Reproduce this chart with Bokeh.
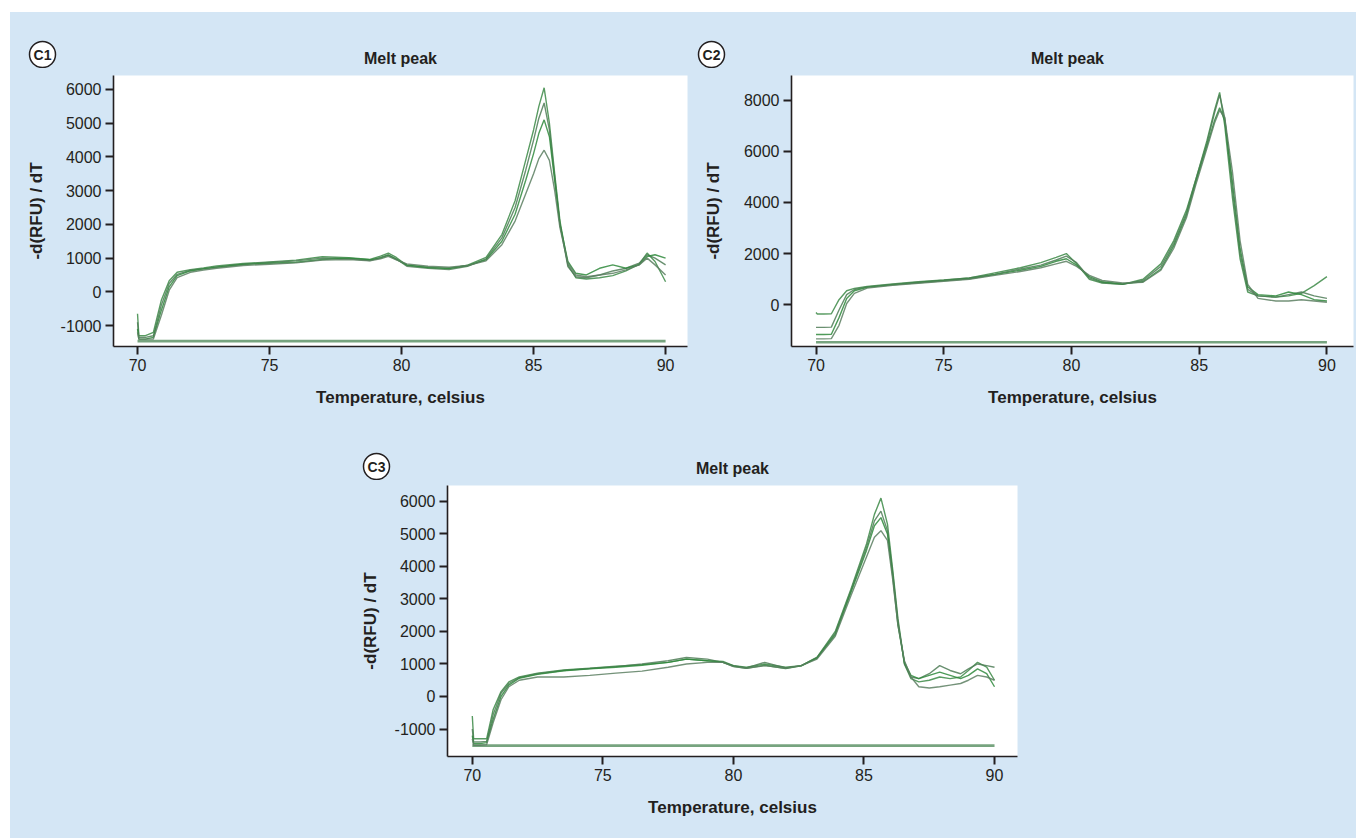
from bokeh.plotting import figure
from bokeh.layouts import column, row
from bokeh.models import Range1d, FixedTicker, Spacer
from bokeh.core.properties import value
from bokeh.embed import file_html
from bokeh.resources import INLINE

# ---------------- data ----------------
panel_tags = ["C1", "C2", "C3"]
panel_title = "Melt peak"
x_label = "Temperature, celsius"
y_label = "-d(RFU) / dT"
x_ticks = [70, 75, 80, 85, 90]
y_ticks_c1 = [-1000, 0, 1000, 2000, 3000, 4000, 5000, 6000]
y_ticks_c2 = [0, 2000, 4000, 6000, 8000]
y_ticks_c3 = [-1000, 0, 1000, 2000, 3000, 4000, 5000, 6000]

base_temp = [70.0, 90.0]
base_c1 = [-1460, -1460]
base_c2 = [-1460, -1460]
base_c3 = [-1510, -1510]

temp_c1 = [70.0, 70.05, 70.3, 70.6, 70.9, 71.2, 71.5, 72.0, 72.5, 73.0, 74.0, 75.0, 76.0, 77.0,
           78.0, 78.8, 79.2, 79.5, 79.8, 80.2, 81.0, 81.8, 82.5, 83.2, 83.8, 84.3, 84.7, 85.0,
           85.2, 85.4, 85.6, 85.8, 86.0, 86.3, 86.6, 87.0, 87.5, 88.0, 88.5, 89.0, 89.3, 89.6, 90.0]
c1_a = [-650, -1300, -1300, -1200, -250, 330, 580, 660, 710, 770, 840, 890, 940, 1040,
        1010, 960, 1060, 1150, 1020, 790, 730, 690, 790, 1020, 1700, 2700, 3900, 4800,
        5500, 6050, 5000, 3500, 2100, 800, 420, 380, 420, 480, 620, 820, 1150, 900, 300]
c1_b = [-900, -1350, -1350, -1300, -400, 250, 520, 640, 690, 740, 820, 870, 920, 1000,
        980, 930, 1020, 1100, 980, 760, 700, 660, 760, 980, 1600, 2500, 3600, 4500,
        5150, 5600, 4800, 3400, 2000, 750, 450, 420, 500, 620, 700, 850, 1100, 1000, 800]
c1_c = [-1100, -1400, -1400, -1350, -550, 150, 480, 620, 680, 730, 810, 850, 880, 960,
        1000, 950, 1000, 1080, 960, 800, 720, 700, 780, 950, 1500, 2300, 3300, 4100,
        4700, 5100, 4600, 3300, 2000, 900, 550, 500, 700, 800, 700, 800, 1050, 1100, 1000]
c1_d = [-1200, -1400, -1400, -1400, -700, 50, 420, 580, 650, 700, 780, 820, 860, 940,
        960, 920, 980, 1050, 950, 830, 760, 730, 780, 920, 1400, 2100, 2900, 3500,
        3950, 4200, 3900, 3000, 1900, 850, 500, 450, 500, 550, 650, 800, 1000, 800, 500]

temp_c2 = [70.0, 70.05, 70.3, 70.6, 70.9, 71.2, 71.5, 72.0, 73.0, 74.0, 75.0, 76.0, 77.0, 78.0,
           78.8, 79.4, 79.8, 80.2, 80.7, 81.2, 82.0, 82.8, 83.5, 84.0, 84.5, 84.9, 85.3, 85.6,
           85.8, 86.0, 86.3, 86.6, 86.9, 87.3, 88.0, 88.5, 89.0, 89.5, 90.0]
c2_a = [-300, -360, -360, -350, 200, 550, 640, 720, 820, 900, 970, 1050, 1250, 1450,
        1650, 1850, 2000, 1600, 1000, 850, 800, 1000, 1600, 2500, 3700, 5000, 6400, 7600,
        8300, 7000, 4200, 1800, 500, 350, 300, 350, 450, 750, 1100]
c2_b = [-880, -880, -880, -870, -200, 400, 600, 700, 800, 880, 960, 1050, 1200, 1400,
        1550, 1750, 1900, 1650, 1050, 870, 800, 950, 1500, 2400, 3600, 5000, 6300, 7500,
        8200, 7300, 4500, 2000, 600, 350, 300, 400, 500, 350, 250]
c2_c = [-1160, -1160, -1160, -1150, -500, 250, 550, 680, 780, 860, 940, 1020, 1180, 1350,
        1500, 1700, 1800, 1550, 1100, 900, 820, 900, 1400, 2300, 3500, 4900, 6200, 7200,
        7700, 7200, 4800, 2200, 700, 400, 350, 500, 400, 200, 150]
c2_d = [-1330, -1330, -1330, -1320, -800, 50, 450, 650, 760, 840, 920, 1000, 1150, 1300,
        1450, 1600, 1700, 1500, 1150, 950, 850, 880, 1350, 2200, 3400, 4800, 6100, 7100,
        7600, 7300, 5200, 2500, 800, 250, 150, 150, 200, 150, 100]

temp_c3 = [70.0, 70.05, 70.3, 70.55, 70.8, 71.1, 71.4, 71.8, 72.5, 73.5, 74.5, 75.5, 76.5, 77.5,
           78.2, 79.0, 79.6, 80.0, 80.5, 81.2, 82.0, 82.6, 83.2, 83.9, 84.5, 85.1, 85.4, 85.65,
           85.9, 86.1, 86.3, 86.55, 86.8, 87.1, 87.5, 87.9, 88.3, 88.7, 89.0, 89.35, 89.7, 90.0]
c3_a = [-600, -1300, -1300, -1300, -400, 150, 450, 600, 720, 820, 870, 930, 980, 1050,
        1150, 1100, 1080, 950, 900, 1000, 900, 950, 1200, 2000, 3300, 4700, 5600, 6100,
        5300, 3900, 2400, 1000, 550, 450, 500, 600, 550, 600, 800, 1050, 900, 500]
c3_b = [-1000, -1400, -1400, -1380, -550, 100, 400, 580, 700, 800, 860, 920, 1000, 1100,
        1200, 1150, 1050, 950, 880, 1050, 880, 950, 1200, 1950, 3250, 4600, 5400, 5700,
        5100, 3800, 2300, 1000, 600, 550, 700, 950, 800, 700, 850, 1000, 950, 900]
c3_c = [-1200, -1450, -1450, -1420, -700, 0, 350, 560, 680, 790, 850, 900, 960, 1050,
        1150, 1100, 1050, 930, 870, 960, 860, 940, 1180, 1900, 3200, 4500, 5250, 5500,
        5000, 3700, 2200, 1050, 650, 550, 650, 750, 650, 550, 650, 850, 700, 300]
c3_d = [-1300, -1500, -1500, -1480, -800, -100, 300, 500, 600, 600, 650, 720, 780, 900,
        1000, 1050, 1050, 920, 870, 950, 870, 950, 1150, 1850, 3100, 4300, 4900, 5100,
        4800, 3600, 2200, 1100, 600, 300, 260, 300, 350, 400, 500, 650, 600, 500]

# ---------------- styling ----------------
BG = "#d4e6f5"
INK = "#231f20"
FONT = "Liberation Sans"
LINE_COLORS = ["#3c8a46", "#4f7d57", "#2f8a3c", "#5c7f62"]


def make_header(width, height, tags, tag_pos, title_pos):
    """Strip above the panels that carries the circled tags and the panel titles."""
    h = figure(width=width, height=height, output_backend="svg", toolbar_location=None,
               x_range=Range1d(0, width), y_range=Range1d(0, height), min_border=0,
               x_axis_location=None, y_axis_location=None)
    h.border_fill_color = BG
    h.background_fill_color = BG
    h.outline_line_color = None
    h.grid.visible = False
    h.scatter([q[0] for q in tag_pos], [q[1] for q in tag_pos], marker="circle", size=26,
              fill_color="white", line_color=INK, line_width=1.5)
    h.text([q[0] for q in tag_pos], [q[1] for q in tag_pos], text=tags,
           text_align="center", text_baseline="middle", text_font=value(FONT),
           text_font_size=value("14px"), text_font_style="bold", text_color=INK)
    h.text([q[0] for q in title_pos], [q[1] for q in title_pos],
           text=[panel_title] * len(title_pos), text_align="center", text_baseline="middle",
           text_font=value(FONT), text_font_size=value("16px"), text_font_style="bold",
           text_color=INK)
    return h


def make_panel(width, height, mbl, mbr, mbt, mbb, xr, yr, yticks, temps, curves,
               base_vals, ylabel_standoff):
    p = figure(width=width, height=height, output_backend="svg", toolbar_location=None,
               x_range=Range1d(*xr), y_range=Range1d(*yr),
               min_border_left=mbl, min_border_right=mbr,
               min_border_top=mbt, min_border_bottom=mbb)
    p.border_fill_color = BG
    p.background_fill_color = "white"
    p.outline_line_color = None
    p.grid.visible = False

    for ax in (p.xaxis, p.yaxis):
        ax.axis_line_color = INK
        ax.axis_line_width = 1.6
        ax.major_tick_line_color = INK
        ax.major_tick_line_width = 2
        ax.major_tick_out = 8
        ax.major_tick_in = 0
        ax.minor_tick_line_color = None
        ax.major_label_text_font = FONT
        ax.major_label_text_font_size = "16px"
        ax.major_label_text_color = INK
        ax.major_label_standoff = 4
        ax.axis_label_text_font = FONT
        ax.axis_label_text_font_size = "17px"
        ax.axis_label_text_font_style = "bold"
        ax.axis_label_text_color = INK
    p.xaxis.ticker = FixedTicker(ticks=x_ticks)
    p.yaxis.ticker = FixedTicker(ticks=yticks)
    # plain hyphen-minus, as printed in the reference
    p.yaxis.major_label_overrides = {t: str(t) for t in yticks if t < 0}
    p.xaxis.axis_label = x_label
    p.yaxis.axis_label = y_label
    p.xaxis.axis_label_standoff = 14
    p.yaxis.axis_label_standoff = ylabel_standoff

    p.line(base_temp, base_vals, line_color="#5f9468", line_width=2.6, line_alpha=0.85)
    for i, vals in enumerate(curves):
        p.line(temps, vals, line_color=LINE_COLORS[i % len(LINE_COLORS)],
               line_width=1.4, line_alpha=0.85)
    return p


header1 = make_header(1346, 56, panel_tags[:2], [(32, 14), (701, 14)],
                      [(390, 10), (1057, 10)])
p1 = make_panel(690, 352, 103, 13, 7, 74,
                (69.09, 90.83), (-1620, 6415), y_ticks_c1, temp_c1,
                [c1_a, c1_b, c1_c, c1_d], base_c1, 12)
p2 = make_panel(656, 352, 81, 3, 7, 74,
                (69.04, 91.04), (-1628, 8957), y_ticks_c2, temp_c2,
                [c2_a, c2_b, c2_c, c2_d], base_c2, 18)
header3 = make_header(1346, 60, panel_tags[2:], [(366, 14)], [(722, 12)])
p3 = make_panel(1346, 358, 437, 339, 5, 82,
                (69.05, 90.88), (-1845, 6488), y_ticks_c3, temp_c3,
                [c3_a, c3_b, c3_c, c3_d], base_c3, 12)

bg = {"background-color": BG}
inner = column(row(header1, styles=bg), row(p1, p2, styles=bg), row(header3, styles=bg),
               row(p3, styles=bg), styles=bg)
layout = column(Spacer(height=12), row(Spacer(width=10), inner))
open("out.html", "w").write(file_html(layout, INLINE))
